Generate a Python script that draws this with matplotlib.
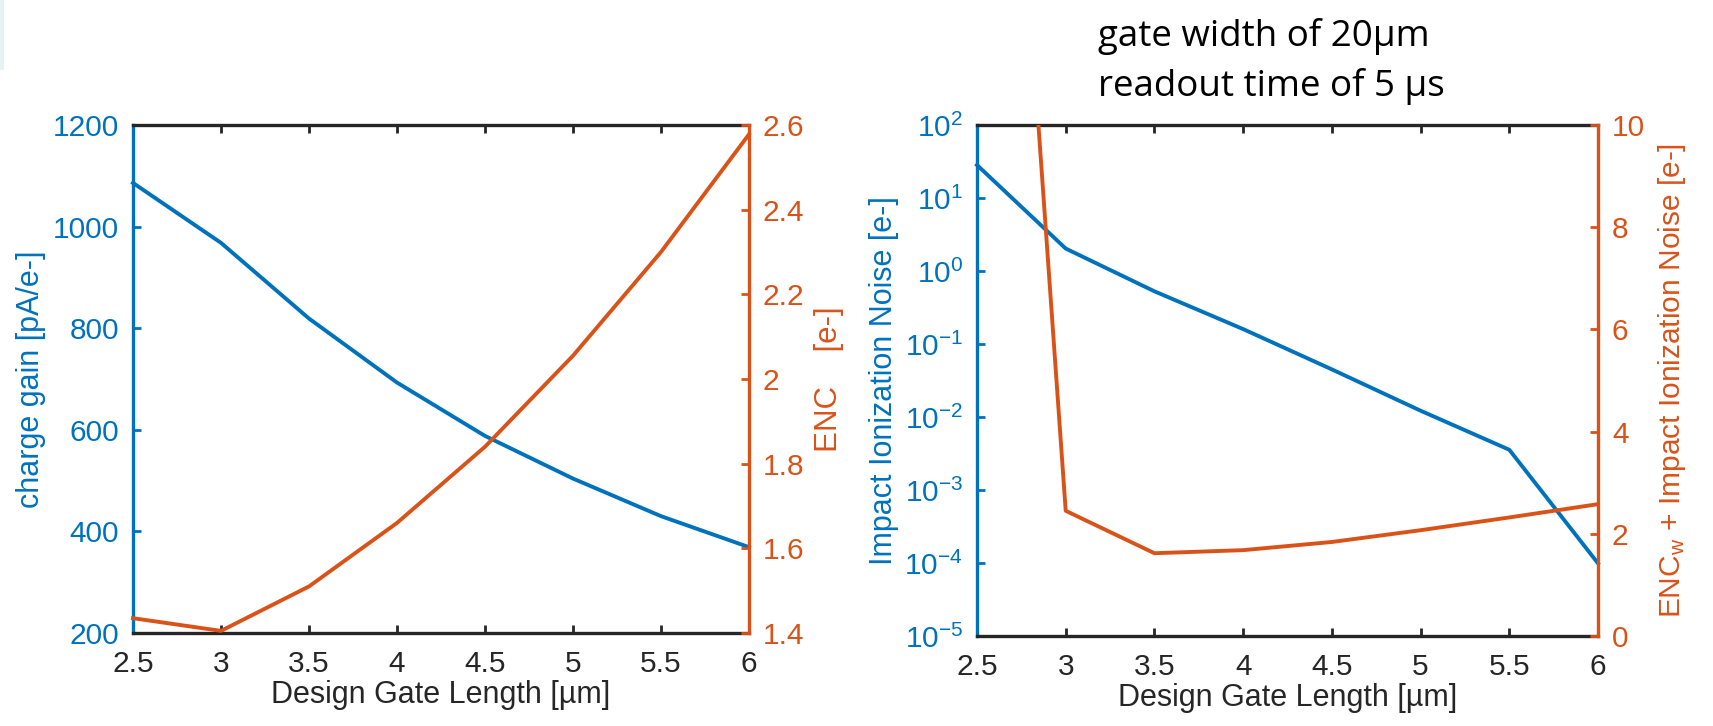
import matplotlib
matplotlib.use('Agg')
import matplotlib.pyplot as plt
from matplotlib.ticker import LogLocator, NullLocator
from matplotlib.patches import Rectangle

plt.rcParams['font.family'] = ['Liberation Sans', 'DejaVu Sans']
plt.rcParams['mathtext.fontset'] = 'custom'
plt.rcParams['mathtext.rm'] = 'Liberation Sans'
plt.rcParams['mathtext.it'] = 'Liberation Sans:italic'
plt.rcParams['mathtext.bf'] = 'Liberation Sans:bold'
plt.rcParams['axes.unicode_minus'] = False

# 数据
gate_length = [2.5, 3.0, 3.5, 4.0, 4.5, 5.0, 5.5, 6.0]
charge_gain = [1086, 968, 819, 693, 588, 504, 430, 369]
enc_left = [1.435, 1.405, 1.51, 1.66, 1.84, 2.055, 2.30, 2.578]
impact_noise = [28.3, 2.03, 0.527, 0.16, 0.0449, 0.0122, 0.00356, 9.9e-5]
enc_total = [27.0, 2.45, 1.62, 1.68, 1.84, 2.07, 2.32, 2.58]

blue = '#0072BD'
orange = '#D95319'
dark = '#262626'

W, H = 1713, 726
fig = plt.figure(figsize=(W / 100, H / 100), dpi=100)

# 左上角浅色块
fig.add_artist(Rectangle((0, 1 - 70 / H), 4 / W, 70 / H, transform=fig.transFigure,
                         facecolor='#e6f3f5', edgecolor='none'))


def style(ax, ax2):
    for s in ['top', 'bottom']:
        ax.spines[s].set_color(dark)
        ax.spines[s].set_linewidth(2.4)
        ax2.spines[s].set_visible(False)
    ax.spines['right'].set_visible(False)
    ax.spines['left'].set_color(blue)
    ax.spines['left'].set_linewidth(2.4)
    ax2.spines['left'].set_visible(False)
    ax2.spines['right'].set_color(orange)
    ax2.spines['right'].set_linewidth(2.4)
    ax.tick_params(axis='x', direction='in', top=True, length=6, width=2,
                   colors=dark, labelsize=21.5, pad=12)
    ax.tick_params(axis='y', direction='in', length=6, width=2,
                   colors=blue, labelsize=21.5, pad=10)
    ax2.tick_params(axis='y', direction='in', length=6, width=2,
                    colors=orange, labelsize=21.5, pad=10)
    ax.set_xlim(2.5, 6)
    ax.set_xticks([2.5, 3, 3.5, 4, 4.5, 5, 5.5, 6])
    ax.set_xticklabels(['2.5', '3', '3.5', '4', '4.5', '5', '5.5', '6'])
    ax.set_xlabel('Design Gate Length [µm]', fontsize=22, color=dark, labelpad=2)


# 左图
ax1 = fig.add_axes([133 / W, 1 - 633 / H, (749 - 133) / W, (633 - 125) / H])
ax1b = ax1.twinx()
ax1.plot(gate_length, charge_gain, color=blue, lw=2.8, clip_on=False)
ax1b.plot(gate_length, enc_left, color=orange, lw=2.8, clip_on=False)
ax1.set_ylim(200, 1200)
ax1.set_yticks([200, 400, 600, 800, 1000, 1200])
ax1b.set_ylim(1.4, 2.6)
ax1b.set_yticks([1.4, 1.6, 1.8, 2.0, 2.2, 2.4, 2.6])
ax1b.set_yticklabels(['1.4', '1.6', '1.8', '2', '2.2', '2.4', '2.6'])
style(ax1, ax1b)
ax1.set_ylabel('charge gain [pA/e-]', fontsize=22, color=blue, labelpad=5)
ax1b.set_ylabel('ENC    [e-]', fontsize=22.5, color=orange, labelpad=7)

# 右图
ax3 = fig.add_axes([977 / W, 1 - 636 / H, (1598 - 977) / W, (636 - 125) / H])
ax3b = ax3.twinx()
ax3.plot(gate_length, impact_noise, color=blue, lw=2.8, clip_on=False)
ax3b.plot(gate_length, enc_total, color=orange, lw=2.8)
ax3.set_yscale('log')
ax3.set_ylim(1e-5, 1e2)
ax3.yaxis.set_major_locator(LogLocator(base=10, numticks=12))
ax3.yaxis.set_minor_locator(NullLocator())
ax3b.set_ylim(0, 10)
ax3b.set_yticks([0, 2, 4, 6, 8, 10])
style(ax3, ax3b)
ax3.set_ylabel('Impact Ionization Noise [e-]', fontsize=22, color=blue, labelpad=4)
ax3b.set_ylabel(r'ENC$_\mathregular{w}$ + Impact Ionization Noise [e-]',
                fontsize=21.5, color=orange, labelpad=8)

# 标题文字
fig.text(1098 / W, 1 - 46 / H, 'gate width of 20µm', fontsize=26.5,
         family=['Open Sans', 'DejaVu Sans'], va='baseline', ha='left')
fig.text(1098 / W, 1 - 96 / H, 'readout time of 5 µs', fontsize=26.5,
         family=['Open Sans', 'DejaVu Sans'], va='baseline', ha='left')

fig.savefig('out.png', dpi=100)
